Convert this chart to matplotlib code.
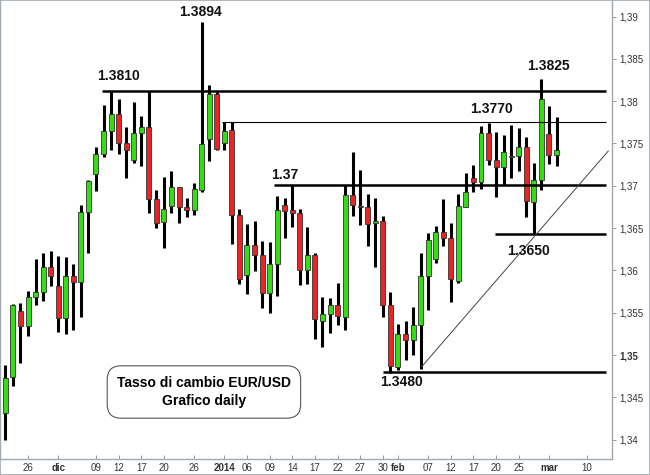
import numpy as np
import pandas as pd
import matplotlib
matplotlib.use('Agg')
import matplotlib.pyplot as plt
from matplotlib.patches import Rectangle

plt.rcParams['font.family'] = ['Liberation Sans', 'DejaVu Sans']

# daily candles, 21 nov 2013 - 4 mar 2014 (all weekdays)
dates = pd.bdate_range('2013-11-21', '2014-03-04')

opens = [1.3432, 1.3474, 1.3552, 1.3534, 1.3568, 1.3575, 1.3604, 1.3582, 1.3544, 1.3593,
         1.3586, 1.3669, 1.3714, 1.3738, 1.3765, 1.3785, 1.3750, 1.3731, 1.3762, 1.3769,
         1.3684, 1.3657, 1.3676, 1.3698, 1.3675, 1.3671, 1.3695, 1.3755, 1.3809, 1.3751,
         1.3766, 1.3666, 1.3594, 1.3630, 1.3618, 1.3573, 1.3607, 1.3677, 1.3671, 1.3668,
         1.3601, 1.3618, 1.3540, 1.3549, 1.3559, 1.3545, 1.3689, 1.3676, 1.3675, 1.3656,
         1.3658, 1.3559, 1.3486, 1.3525, 1.3518, 1.3536, 1.3593, 1.3614, 1.3645, 1.3638,
         1.3588, 1.3675, 1.3709, 1.3705, 1.3762, 1.3730, 1.3722, 1.3734, 1.3735, 1.3746,
         1.3681, 1.3707, 1.3761, 1.3736]
highs = [1.3488, 1.3560, 1.3561, 1.3576, 1.3614, 1.3620, 1.3623, 1.3617, 1.3616, 1.3607,
         1.3677, 1.3707, 1.3746, 1.3796, 1.3812, 1.3803, 1.3769, 1.3799, 1.3782, 1.3812,
         1.3695, 1.3710, 1.3718, 1.3699, 1.3685, 1.3703, 1.3894, 1.3819, 1.3811, 1.3775,
         1.3775, 1.3672, 1.3655, 1.3658, 1.3635, 1.3634, 1.3688, 1.3686, 1.3701, 1.3673,
         1.3651, 1.3620, 1.3569, 1.3567, 1.3585, 1.3701, 1.3740, 1.3719, 1.3690, 1.3686,
         1.3664, 1.3574, 1.3537, 1.3540, 1.3557, 1.3620, 1.3644, 1.3653, 1.3684, 1.3656,
         1.3690, 1.3715, 1.3725, 1.3771, 1.3774, 1.3764, 1.3760, 1.3772, 1.3768, 1.3758,
         1.3727, 1.3826, 1.3794, 1.3781]
lows = [1.3400, 1.3463, 1.3491, 1.3523, 1.3559, 1.3564, 1.3582, 1.3527, 1.3525, 1.3529,
        1.3545, 1.3621, 1.3694, 1.3734, 1.3742, 1.3738, 1.3709, 1.3727, 1.3723, 1.3668,
        1.3650, 1.3626, 1.3668, 1.3656, 1.3663, 1.3666, 1.3693, 1.3729, 1.3742, 1.3742,
        1.3631, 1.3584, 1.3572, 1.3599, 1.3555, 1.3550, 1.3570, 1.3638, 1.3651, 1.3583,
        1.3584, 1.3519, 1.3510, 1.3526, 1.3536, 1.3530, 1.3664, 1.3654, 1.3629, 1.3604,
        1.3545, 1.3479, 1.3482, 1.3494, 1.3500, 1.3484, 1.3553, 1.3609, 1.3629, 1.3563,
        1.3585, 1.3675, 1.3693, 1.3696, 1.3725, 1.3687, 1.3701, 1.3709, 1.3717, 1.3663,
        1.3643, 1.3695, 1.3726, 1.3723]
closes = [1.3473, 1.3559, 1.3534, 1.3568, 1.3574, 1.3604, 1.3593, 1.3544, 1.3593, 1.3586,
          1.3669, 1.3706, 1.3738, 1.3765, 1.3785, 1.3750, 1.3742, 1.3762, 1.3769, 1.3684,
          1.3656, 1.3673, 1.3698, 1.3675, 1.3671, 1.3696, 1.3749, 1.3809, 1.3744, 1.3765,
          1.3666, 1.3590, 1.3630, 1.3618, 1.3573, 1.3607, 1.3671, 1.3670, 1.3668, 1.3601,
          1.3618, 1.3542, 1.3549, 1.3559, 1.3546, 1.3689, 1.3677, 1.3675, 1.3655, 1.3658,
          1.3559, 1.3487, 1.3525, 1.3518, 1.3536, 1.3593, 1.3636, 1.3645, 1.3638, 1.3590,
          1.3676, 1.3693, 1.3705, 1.3762, 1.3730, 1.3722, 1.3740, 1.3735, 1.3746, 1.3682,
          1.3707, 1.3802, 1.3736, 1.3742]

# x axis labels
tick_dates = ['2013-11-26', '2013-12-02', '2013-12-09', '2013-12-12', '2013-12-17', '2013-12-20',
              '2013-12-26', '2014-01-01', '2014-01-06', '2014-01-09', '2014-01-14', '2014-01-17',
              '2014-01-22', '2014-01-27', '2014-01-30', '2014-02-03', '2014-02-07', '2014-02-12',
              '2014-02-17', '2014-02-20', '2014-02-25', '2014-03-03', '2014-03-10']
tick_labels = ['26', 'dic', '09', '12', '17', '20', '26', '2014', '06', '09', '14', '17',
               '22', '27', '30', 'feb', '07', '12', '17', '20', '25', 'mar', '10']
bold_labels = ['dic', '2014', 'feb', 'mar']

# support / resistance drawn on the chart: level, start (day index), line width
levels = [1.3812, 1.3775, 1.3701, 1.3643, 1.3480]
level_start = [12.76, 28.65, 35.6, 64.85, 49.98]
level_width = [1.8, 0.8, 1.8, 1.8, 1.8]
x_end = 79.56
# trend line from the 3 feb low
trend_x = [55.15, 79.86]
trend_y = [1.34862, 1.37412]

start = dates[0].strftime('%Y-%m-%d')
x = np.arange(len(dates))
o, h, l, c = map(np.array, (opens, highs, lows, closes))
up = c >= o
cols = np.where(up, '#33dd11', '#ee2222')

fig = plt.figure(figsize=(6.5, 4.75), dpi=100)
ax = fig.add_axes([0.0, 16/475, 612/650, 1 - 16/475])

ax.vlines(x, l, h, color='black', lw=2.2, zorder=2)
body = np.where(np.abs(c - o) < 0.00004, 0.00004, c - o)
ax.bar(x, body, bottom=o, width=0.66, color=cols, edgecolor='#333333', linewidth=0.6, zorder=3)

for lev, xs, lw in zip(levels, level_start, level_width):
    ax.plot([xs, x_end], [lev, lev], color='black', lw=lw, zorder=4, solid_capstyle='butt')
ax.plot(trend_x, trend_y, color='#444444', lw=0.7, zorder=4)

# annotations
tkw = dict(fontsize=10, fontweight='bold', color='#111111', zorder=5)
ax.text(12.14, 1.38298, '1.3810', ha='left', va='center', **tkw)
ax.text(25.8, 1.39058, '1.3894', ha='center', va='center', **tkw)
ax.text(61.5, 1.37904, '1.3770', ha='left', va='center', **tkw)
ax.text(71.9, 1.38416, '1.3825', ha='center', va='center', **tkw)
ax.text(35.2, 1.37128, '1.37', ha='left', va='center', **tkw)
ax.text(66.4, 1.36233, '1.3650', ha='left', va='center', **tkw)
ax.text(52.5, 1.34681, '1.3480', ha='center', va='center', **tkw)

ax.text(26.3, 1.34563, 'Tasso di cambio EUR/USD\nGrafico daily', ha='center', va='center',
        fontsize=10, fontweight='bold', linespacing=1.45, zorder=5,
        bbox=dict(boxstyle='round,pad=0.7,rounding_size=1.0', fc='white', ec='#555555', lw=0.8))

ax.set_xlim(-0.71, 80.35)
ax.set_ylim(1.33771, 1.39196)

yt = np.round(np.arange(1.34, 1.3901, 0.005), 3)
ax.yaxis.tick_right()
ax.set_yticks(yt)
ax.set_yticklabels([('%g' % v).replace('.', ',') for v in yt])
for t, v in zip(ax.get_yticklabels(), yt):
    if abs(v - 1.35) < 1e-9:
        t.set_fontweight('bold')
        t.set_fontsize(8)
ax.tick_params(axis='y', direction='out', length=3, width=0.6, color='#888888',
               labelsize=7, labelcolor='#333333', pad=2)

xt = [np.busday_count(start, d) for d in tick_dates]
ax.set_xticks(xt)
ax.set_xticklabels(tick_labels)
for t in ax.get_xticklabels():
    if t.get_text() in bold_labels:
        t.set_fontweight('bold')
        t.set_fontsize(8.5)
ax.tick_params(axis='x', direction='in', length=3, width=0.6, color='#888888',
               labelsize=7, labelcolor='#333333', pad=3)

ax.spines['top'].set_visible(False)
for s in ['left', 'right', 'bottom']:
    ax.spines[s].set_color('#a0a8b0')
    ax.spines[s].set_linewidth(1.0)

fig.patches.append(Rectangle((0, 0), 1, 1, transform=fig.transFigure, fill=False,
                             ec='#a0a8b0', lw=1.2))

fig.savefig('out.png', dpi=100)
